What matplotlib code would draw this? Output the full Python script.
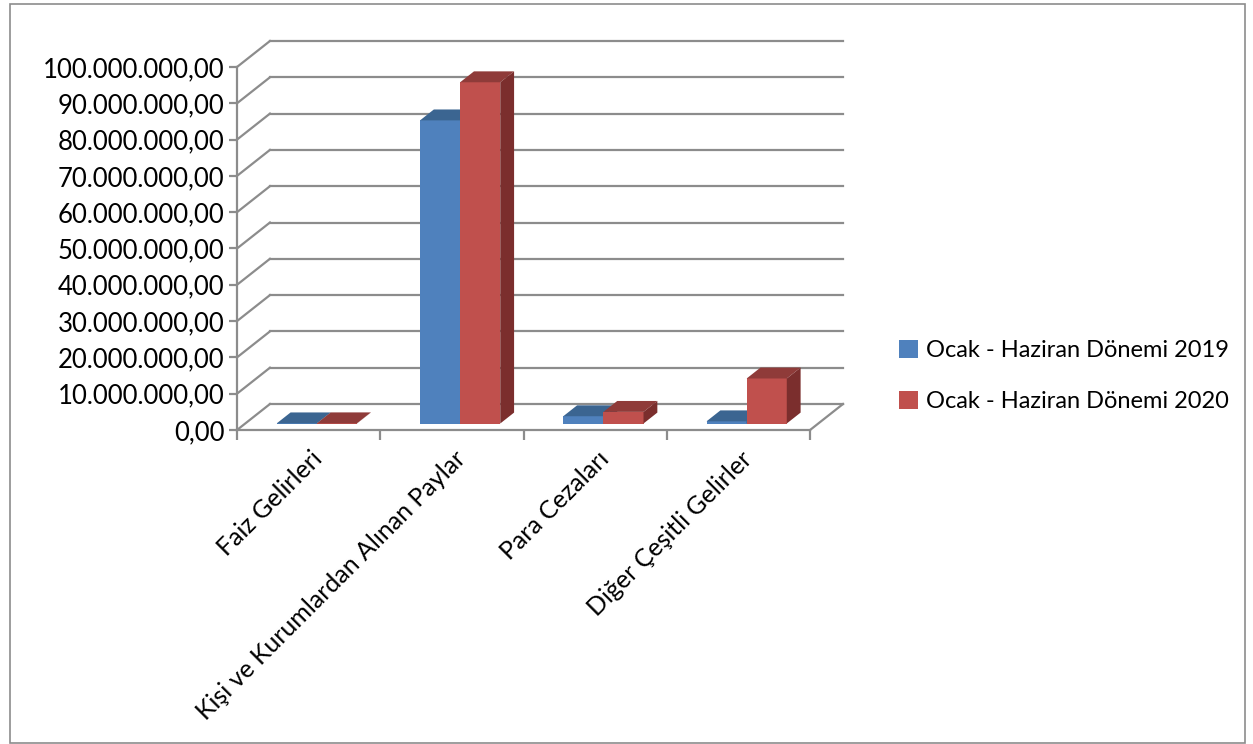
import matplotlib
matplotlib.use("Agg")
import matplotlib.pyplot as plt
from matplotlib.patches import Polygon, Patch, Rectangle
from matplotlib.ticker import FuncFormatter, FixedLocator

plt.rcParams['font.family'] = ['Lato', 'DejaVu Sans']

categories = ["Faiz Gelirleri", "Kişi ve Kurumlardan Alınan Paylar",
              "Para Cezaları", "Diğer Çeşitli Gelirler"]
series_names = ["Ocak - Haziran Dönemi 2019", "Ocak - Haziran Dönemi 2020"]
values_2019 = [40_000, 83_500_000, 2_000_000, 600_000]
values_2020 = [50_000, 94_000_000, 3_200_000, 12_400_000]

front_colors = ["#4F81BD", "#C0504D"]
top_colors = ["#3B6591", "#8F3B39"]
side_colors = ["#2F5075", "#7B2E2D"]
grid_color = "#8C8C8C"

# oblique depth offsets (category units, value units)
DX = 0.23
DY = 7.16e6
YMAX = 100_000_000


def proj(x, y, z):
    return (x + z * DX, y + z * DY)


fig = plt.figure(figsize=(12.53, 7.44), dpi=100)
fig.add_artist(Rectangle((10 / 1253, 1 / 744), 1235 / 1253, 739 / 744,
                         transform=fig.transFigure, fill=False,
                         edgecolor="#8C8C8C", lw=1.2))

ax = fig.add_axes([237 / 1253, 314 / 744, 606 / 1253, 389 / 744])
ax.set_xlim(0, len(categories) + DX)
ax.set_ylim(0, YMAX + DY)

# walls and gridlines
n = len(categories)
for v in range(0, YMAX + 1, 10_000_000):
    xs, ys = zip(proj(0, v, 1), proj(n, v, 1))
    ax.plot(xs, ys, color=grid_color, lw=1.6, zorder=1, clip_on=False)
    xs, ys = zip(proj(0, v, 0), proj(0, v, 1))
    ax.plot(xs, ys, color=grid_color, lw=1.6, zorder=1, clip_on=False)
xs, ys = zip(proj(n, 0, 0), proj(n, 0, 1))
ax.plot(xs, ys, color=grid_color, lw=1.6, zorder=1, clip_on=False)

# bars
z0, z1 = 0.25, 0.67
bw = 0.28
for i in range(n):
    for s, vals in enumerate([values_2019, values_2020]):
        h = vals[i]
        x0 = i + 0.5 - bw + s * bw
        x1 = x0 + bw
        front = [proj(x0, 0, z0), proj(x1, 0, z0), proj(x1, h, z0), proj(x0, h, z0)]
        top = [proj(x0, h, z0), proj(x1, h, z0), proj(x1, h, z1), proj(x0, h, z1)]
        side = [proj(x1, 0, z0), proj(x1, 0, z1), proj(x1, h, z1), proj(x1, h, z0)]
        ax.add_patch(Polygon(front, closed=True, fc=front_colors[s], ec="none", zorder=3))
        ax.add_patch(Polygon(top, closed=True, fc=top_colors[s], ec="none", zorder=3))
        ax.add_patch(Polygon(side, closed=True, fc=side_colors[s], ec="none", zorder=3))

# axes styling
for sp in ["top", "right"]:
    ax.spines[sp].set_visible(False)
ax.spines["left"].set_bounds(0, YMAX)
ax.spines["bottom"].set_bounds(0, n)
for sp in ["left", "bottom"]:
    ax.spines[sp].set_color(grid_color)
    ax.spines[sp].set_linewidth(1.6)

ax.yaxis.set_major_locator(FixedLocator(range(0, YMAX + 1, 10_000_000)))
ax.yaxis.set_major_formatter(FuncFormatter(
    lambda v, p: f"{v:,.2f}".replace(",", "X").replace(".", ",").replace("X", ".")))
ax.tick_params(axis="y", length=6, width=1.6, color=grid_color, labelsize=18.5,
               labelcolor="#000000", pad=3)

ax.xaxis.set_major_locator(FixedLocator([i + 0.57 for i in range(n)]))
ax.xaxis.set_minor_locator(FixedLocator(range(n + 1)))
ax.set_xticklabels(categories, rotation=45, ha="right", va="center",
                   rotation_mode="anchor", fontsize=18)
ax.tick_params(axis="x", which="major", length=0, pad=18)
ax.tick_params(axis="x", which="minor", length=7, width=1.6, color=grid_color)
ax.patch.set_visible(False)

handles = [Patch(fc=c, ec="none") for c in front_colors]
fig.legend(handles, series_names, loc="center left",
           bbox_to_anchor=(899 / 1253, 368 / 744), frameon=False,
           borderpad=0, borderaxespad=0,
           fontsize=17, handlelength=0.8, handleheight=0.8,
           handletextpad=0.35, labelspacing=1.25)

fig.savefig("out.png", dpi=100)
